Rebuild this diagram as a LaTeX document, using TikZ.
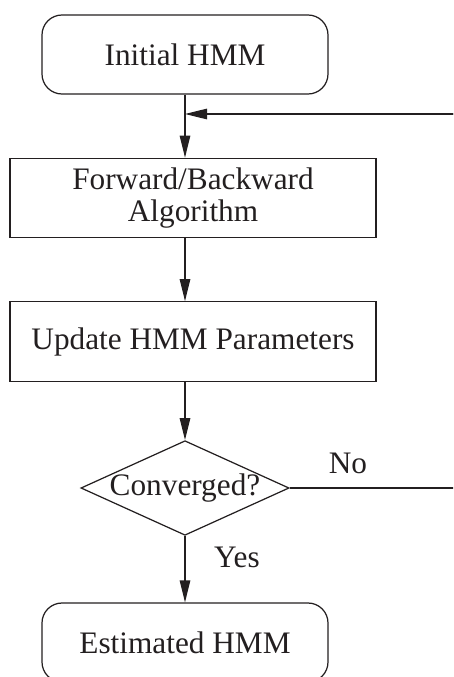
\documentclass[tikz,border=0pt]{standalone}
\usepackage{fontspec}
\setmainfont{Liberation Serif}
\usepackage{tikz}
\usetikzlibrary{positioning,arrows.meta,shapes.geometric}
\definecolor{cInk}{HTML}{231F20}

\begin{document}
\begin{tikzpicture}[
  font=\fontsize{17.8}{18}\selectfont,
  every node/.style={text=cInk},
  blk/.style={draw=cInk, line width=0.7pt, align=center, inner sep=0pt},
  term/.style ={blk, rounded corners=0.4cm, minimum width=5.72cm, minimum height=1.58cm},
  proc/.style ={blk, minimum width=7.32cm, minimum height=1.59cm},
  test/.style ={blk, diamond, aspect=2.2, inner xsep=-0.05cm,
                minimum width=4.12cm, minimum height=1.86cm},
  ar/.style   ={-{Triangle[length=0.44cm,width=0.21cm]}, draw=cInk, line width=0.7pt},
  ln/.style   ={draw=cInk, line width=0.7pt},
]
\useasboundingbox (0,0) rectangle (9.06,-13.54);
\clip (0,0) rectangle (9.06,-13.54);

\node[term] (init) at (3.70,-1.09)  {Initial HMM};
\node[proc] (fb)   at (3.86,-3.96)  {Forward/Backward\\Algorithm};
\node[proc] (upd)  at (3.86,-6.83)  {Update HMM Parameters};
\node[test] (conv) at (3.70,-9.76)  {Converged?};
\node[term] (est)  at (3.70,-12.85) {Estimated HMM};

\node (no)  at (6.96,-9.26)  {No};
\node (yes) at (4.74,-11.14) {Yes};

\draw[ar] (init.south) -- (init.south |- fb.north);
\draw[ar] (init.south |- fb.south) -- (init.south |- upd.north);
\draw[ar] (init.south |- upd.south) -- (conv.north);
\draw[ar] (conv.south) -- (est.north);

% loop back, runs off the right edge
\coordinate (back) at (9.5,-9.76);
\coordinate (join) at (3.70,-2.28);
\draw[ln] (conv.east) -- (back) |- (9.06,-2.28);
\draw[ar] (back |- join) -- (join);
\end{tikzpicture}
\end{document}
